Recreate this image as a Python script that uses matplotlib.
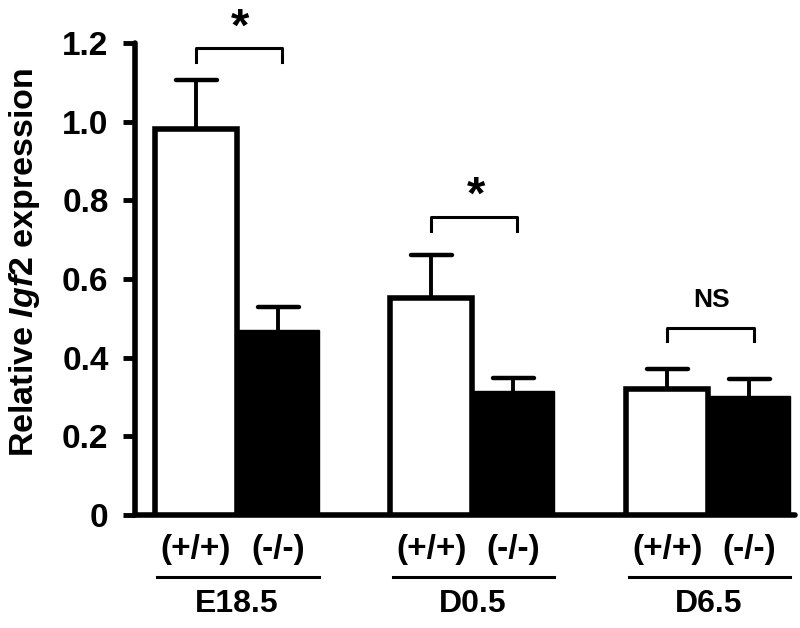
import numpy as np
import matplotlib
matplotlib.use('Agg')
import matplotlib.pyplot as plt

plt.rcParams['font.family'] = ['Liberation Sans', 'DejaVu Sans']
plt.rcParams['font.weight'] = 'bold'
plt.rcParams['mathtext.fontset'] = 'custom'
plt.rcParams['mathtext.it'] = 'Liberation Sans:italic:bold'
plt.rcParams['mathtext.rm'] = 'Liberation Sans:bold'

# %% data
stages = ['E18.5', 'D0.5', 'D6.5']
genotypes = ['(+/+)', '(-/-)']
wt_mean = [0.98, 0.552, 0.32]
wt_err = [0.127, 0.108, 0.05]
ko_mean = [0.47, 0.315, 0.302]
ko_err = [0.059, 0.034, 0.043]
sig_labels = ['*', '*', 'NS']
sig_heights = [1.186, 0.758, 0.476]
yticks = [0, 0.2, 0.4, 0.6, 0.8, 1.0, 1.2]
ytick_labels = ['0', '0.2', '0.4', '0.6', '0.8', '1.0', '1.2']

# %% layout
centers = np.array([0, 2.87, 5.75])
w = 1.0
cap = 0.25

fig = plt.figure(figsize=(8, 6.28), dpi=100)
ax = fig.add_axes([0.16875, 0.18, 0.825, 0.7516])

ax.bar(centers - w/2, wt_mean, w, color='white', edgecolor='black', linewidth=4, zorder=3)
ax.bar(centers + w/2, ko_mean, w, color='black', edgecolor='black', linewidth=1, zorder=3)

# upper error bars only
for xs, m, e in [(centers - w/2, wt_mean, wt_err), (centers + w/2, ko_mean, ko_err)]:
    top = np.array(m) + np.array(e)
    ax.vlines(xs, m, top, color='black', lw=2.8, zorder=2)
    ax.hlines(top, xs - cap, xs + cap, color='black', lw=3.2, zorder=2, capstyle='round')

# significance brackets
leg = 0.035
for c, h, lab in zip(centers, sig_heights, sig_labels):
    ax.plot([c - 0.5, c - 0.5, c + 0.55, c + 0.55], [h - leg, h, h, h - leg],
            color='black', lw=2.2, clip_on=False)
    if lab == '*':
        ax.text(c + 0.04, h - 0.005, lab, ha='center', va='bottom', fontsize=34, clip_on=False)
    else:
        ax.text(c + 0.04, h + 0.04, lab, ha='center', va='bottom', fontsize=19, clip_on=False)

# group labels under the axis
for c, st in zip(centers, stages):
    ax.text(c - w/2, -0.087, genotypes[0], ha='center', va='center', fontsize=24, clip_on=False)
    ax.text(c + w/2, -0.087, genotypes[1], ha='center', va='center', fontsize=24, clip_on=False)
    ax.plot([c - w + 0.03, c + w], [-0.158, -0.158], color='black', lw=2.2, clip_on=False)
    ax.text(c, -0.226, st, ha='center', va='center', fontsize=23, clip_on=False)

ax.set_xlim(-1.244, 6.805)
ax.set_ylim(0, 1.2)
ax.set_xticks([])
ax.set_yticks(yticks)
ax.set_yticklabels(ytick_labels, fontsize=24, fontweight='bold')
ax.tick_params(axis='y', direction='out', length=9, width=3.5, pad=10)
for s in ['top', 'right']:
    ax.spines[s].set_visible(False)
for s in ['left', 'bottom']:
    ax.spines[s].set_linewidth(4)
    ax.spines[s].set_capstyle('round')

fig.text(25/800, 1 - 262/628, r'Relative $\mathit{Igf2}$ expression', rotation=90,
         ha='center', va='center', fontsize=24.5, fontweight='bold')

fig.savefig('out.png', dpi=100)
